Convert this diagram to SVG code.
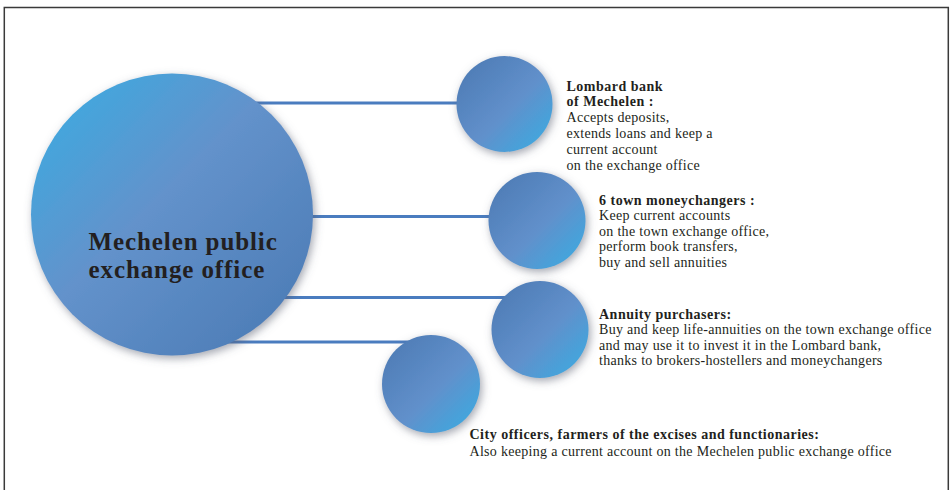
<svg xmlns="http://www.w3.org/2000/svg" width="951" height="490" viewBox="0 0 951 490">
  <defs>
    <linearGradient id="gradMain" x1="0" y1="0" x2="1" y2="1">
      <stop offset="0" stop-color="#36aee4"/>
      <stop offset="0.45" stop-color="#6392cb"/>
      <stop offset="1" stop-color="#4878b2"/>
    </linearGradient>
    <linearGradient id="gradSmall" x1="0" y1="0" x2="1" y2="1">
      <stop offset="0" stop-color="#4a78b1"/>
      <stop offset="0.55" stop-color="#6190cb"/>
      <stop offset="1" stop-color="#36aee4"/>
    </linearGradient>
    <filter id="shadow" x="-30%" y="-30%" width="160%" height="160%">
      <feDropShadow dx="2" dy="3" stdDeviation="4" flood-color="#5a6070" flood-opacity="0.55"/>
    </filter>
  </defs>
  <style>
    .frame { fill: none; stroke: #3a3a3a; stroke-width: 1.5; }
    .link { stroke: #4a7cbf; stroke-width: 3.2; fill: none; }
    .main { fill: url(#gradMain); filter: url(#shadow); }
    .small { fill: url(#gradSmall); filter: url(#shadow); }
    text { font-family: "Liberation Serif", "Times New Roman", serif; fill: #231f20; }
    .title { font-size: 25px; font-weight: bold; letter-spacing: 0.9px; }
    .label { font-size: 14px; letter-spacing: 0.3px; }
    .head { font-weight: bold; letter-spacing: 0.5px; }
  </style>

  <rect width="951" height="490" fill="#ffffff"/>
  <!-- open frame: top, left and right edges -->
  <path class="frame" d="M4.3,491 V7.5 H948.3 V491"/>

  <g id="connectors">
    <line class="link" x1="240" y1="103" x2="504" y2="103"/>
    <line class="link" x1="300" y1="216.5" x2="537" y2="216.5"/>
    <line class="link" x1="270" y1="297.5" x2="540" y2="297.5"/>
    <line class="link" x1="220" y1="342" x2="431" y2="342"/>
  </g>

  <g id="exchange-office">
    <circle class="main" cx="172" cy="214.5" r="141"/>
    <text class="title" x="88.5" y="250">Mechelen public</text>
    <text class="title" x="88.5" y="278">exchange office</text>
  </g>

  <g id="lombard-bank">
    <circle class="small" cx="504.5" cy="104" r="48"/>
    <text class="label">
      <tspan class="head" x="566.5" y="90.5">Lombard bank</tspan>
      <tspan class="head" x="566.5" y="106">of Mechelen :</tspan>
      <tspan x="566.5" y="122">Accepts deposits,</tspan>
      <tspan x="566.5" y="138">extends loans and keep a</tspan>
      <tspan x="566.5" y="154">current account</tspan>
      <tspan x="566.5" y="170">on the exchange office</tspan>
    </text>
  </g>

  <g id="moneychangers">
    <circle class="small" cx="537" cy="220.5" r="48.5"/>
    <text class="label">
      <tspan class="head" x="599" y="204.5">6 town moneychangers :</tspan>
      <tspan x="599" y="220">Keep current accounts</tspan>
      <tspan x="599" y="235.5">on the town exchange office,</tspan>
      <tspan x="599" y="251">perform book transfers,</tspan>
      <tspan x="599" y="267">buy and sell annuities</tspan>
    </text>
  </g>

  <g id="annuity-purchasers">
    <circle class="small" cx="540" cy="329.5" r="48.5"/>
    <text class="label">
      <tspan class="head" x="599" y="318.5">Annuity purchasers:</tspan>
      <tspan x="599" y="334">Buy and keep life-annuities on the town exchange office</tspan>
      <tspan x="599" y="349.5">and may use it to invest it in the Lombard bank,</tspan>
      <tspan x="599" y="365">thanks to brokers-hostellers and moneychangers</tspan>
    </text>
  </g>

  <g id="city-officers">
    <circle class="small" cx="431" cy="384" r="49"/>
    <text class="label">
      <tspan class="head" x="469.5" y="439">City officers, farmers of the excises and functionaries:</tspan>
      <tspan x="469.5" y="455.5">Also keeping a current account on the Mechelen public exchange office</tspan>
    </text>
  </g>
</svg>
